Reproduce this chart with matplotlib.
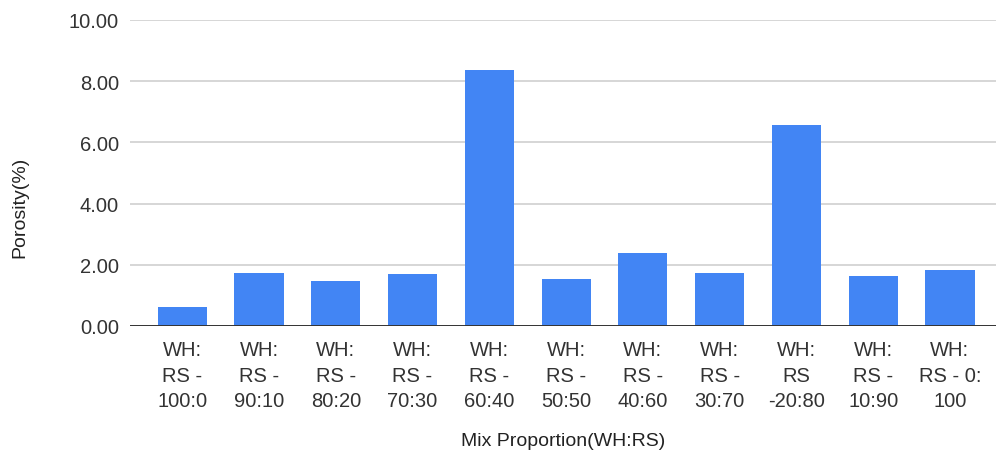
import matplotlib
matplotlib.use("Agg")
import matplotlib.pyplot as plt

plt.rcParams['font.family'] = ['Liberation Sans', 'DejaVu Sans']

# Mix proportions and measured porosity
categories = [
    "WH:\nRS -\n100:0", "WH:\nRS -\n90:10", "WH:\nRS -\n80:20", "WH:\nRS -\n70:30",
    "WH:\nRS -\n60:40", "WH:\nRS -\n50:50", "WH:\nRS -\n40:60", "WH:\nRS -\n30:70",
    "WH:\nRS\n-20:80", "WH:\nRS -\n10:90", "WH:\nRS - 0:\n100",
]
porosity = [0.62, 1.74, 1.47, 1.70, 8.38, 1.52, 2.37, 1.74, 6.58, 1.63, 1.84]
y_ticks = [0, 2, 4, 6, 8, 10]

W, H = 996, 456
fig = plt.figure(figsize=(W / 100, H / 100), dpi=100)
ax = fig.add_axes([130 / W, (H - 327) / H, (996 - 130) / W, (327 - 21) / H])

x = list(range(len(categories)))
ax.bar(x, porosity, width=0.64, color="#4285F4", zorder=3)

ax.set_xlim(-0.68, len(categories) - 0.4)
ax.set_ylim(0, 10)
ax.set_yticks(y_ticks)
ax.set_yticklabels([f"{v:.2f}" for v in y_ticks])
ax.set_xticks(x)
ax.set_xticklabels(categories, linespacing=1.45)

ax.grid(axis="y", color="#d0d0d0", linewidth=1.2, zorder=0)
ax.axhline(0, color="#333333", linewidth=1.4, zorder=4)
for s in ax.spines.values():
    s.set_visible(False)
ax.tick_params(axis="both", length=0, labelsize=14.5, colors="#333333")
ax.tick_params(axis="y", pad=8)
ax.tick_params(axis="x", pad=10)

ax.set_xlabel("Mix Proportion(WH:RS)", fontsize=14, color="#222222")
ax.xaxis.set_label_coords(0.5, -0.345)
ax.set_ylabel("Porosity(%)", fontsize=14, color="#222222")
ax.yaxis.set_label_coords(-0.117, 0.392)

fig.savefig("out.png", dpi=100)
